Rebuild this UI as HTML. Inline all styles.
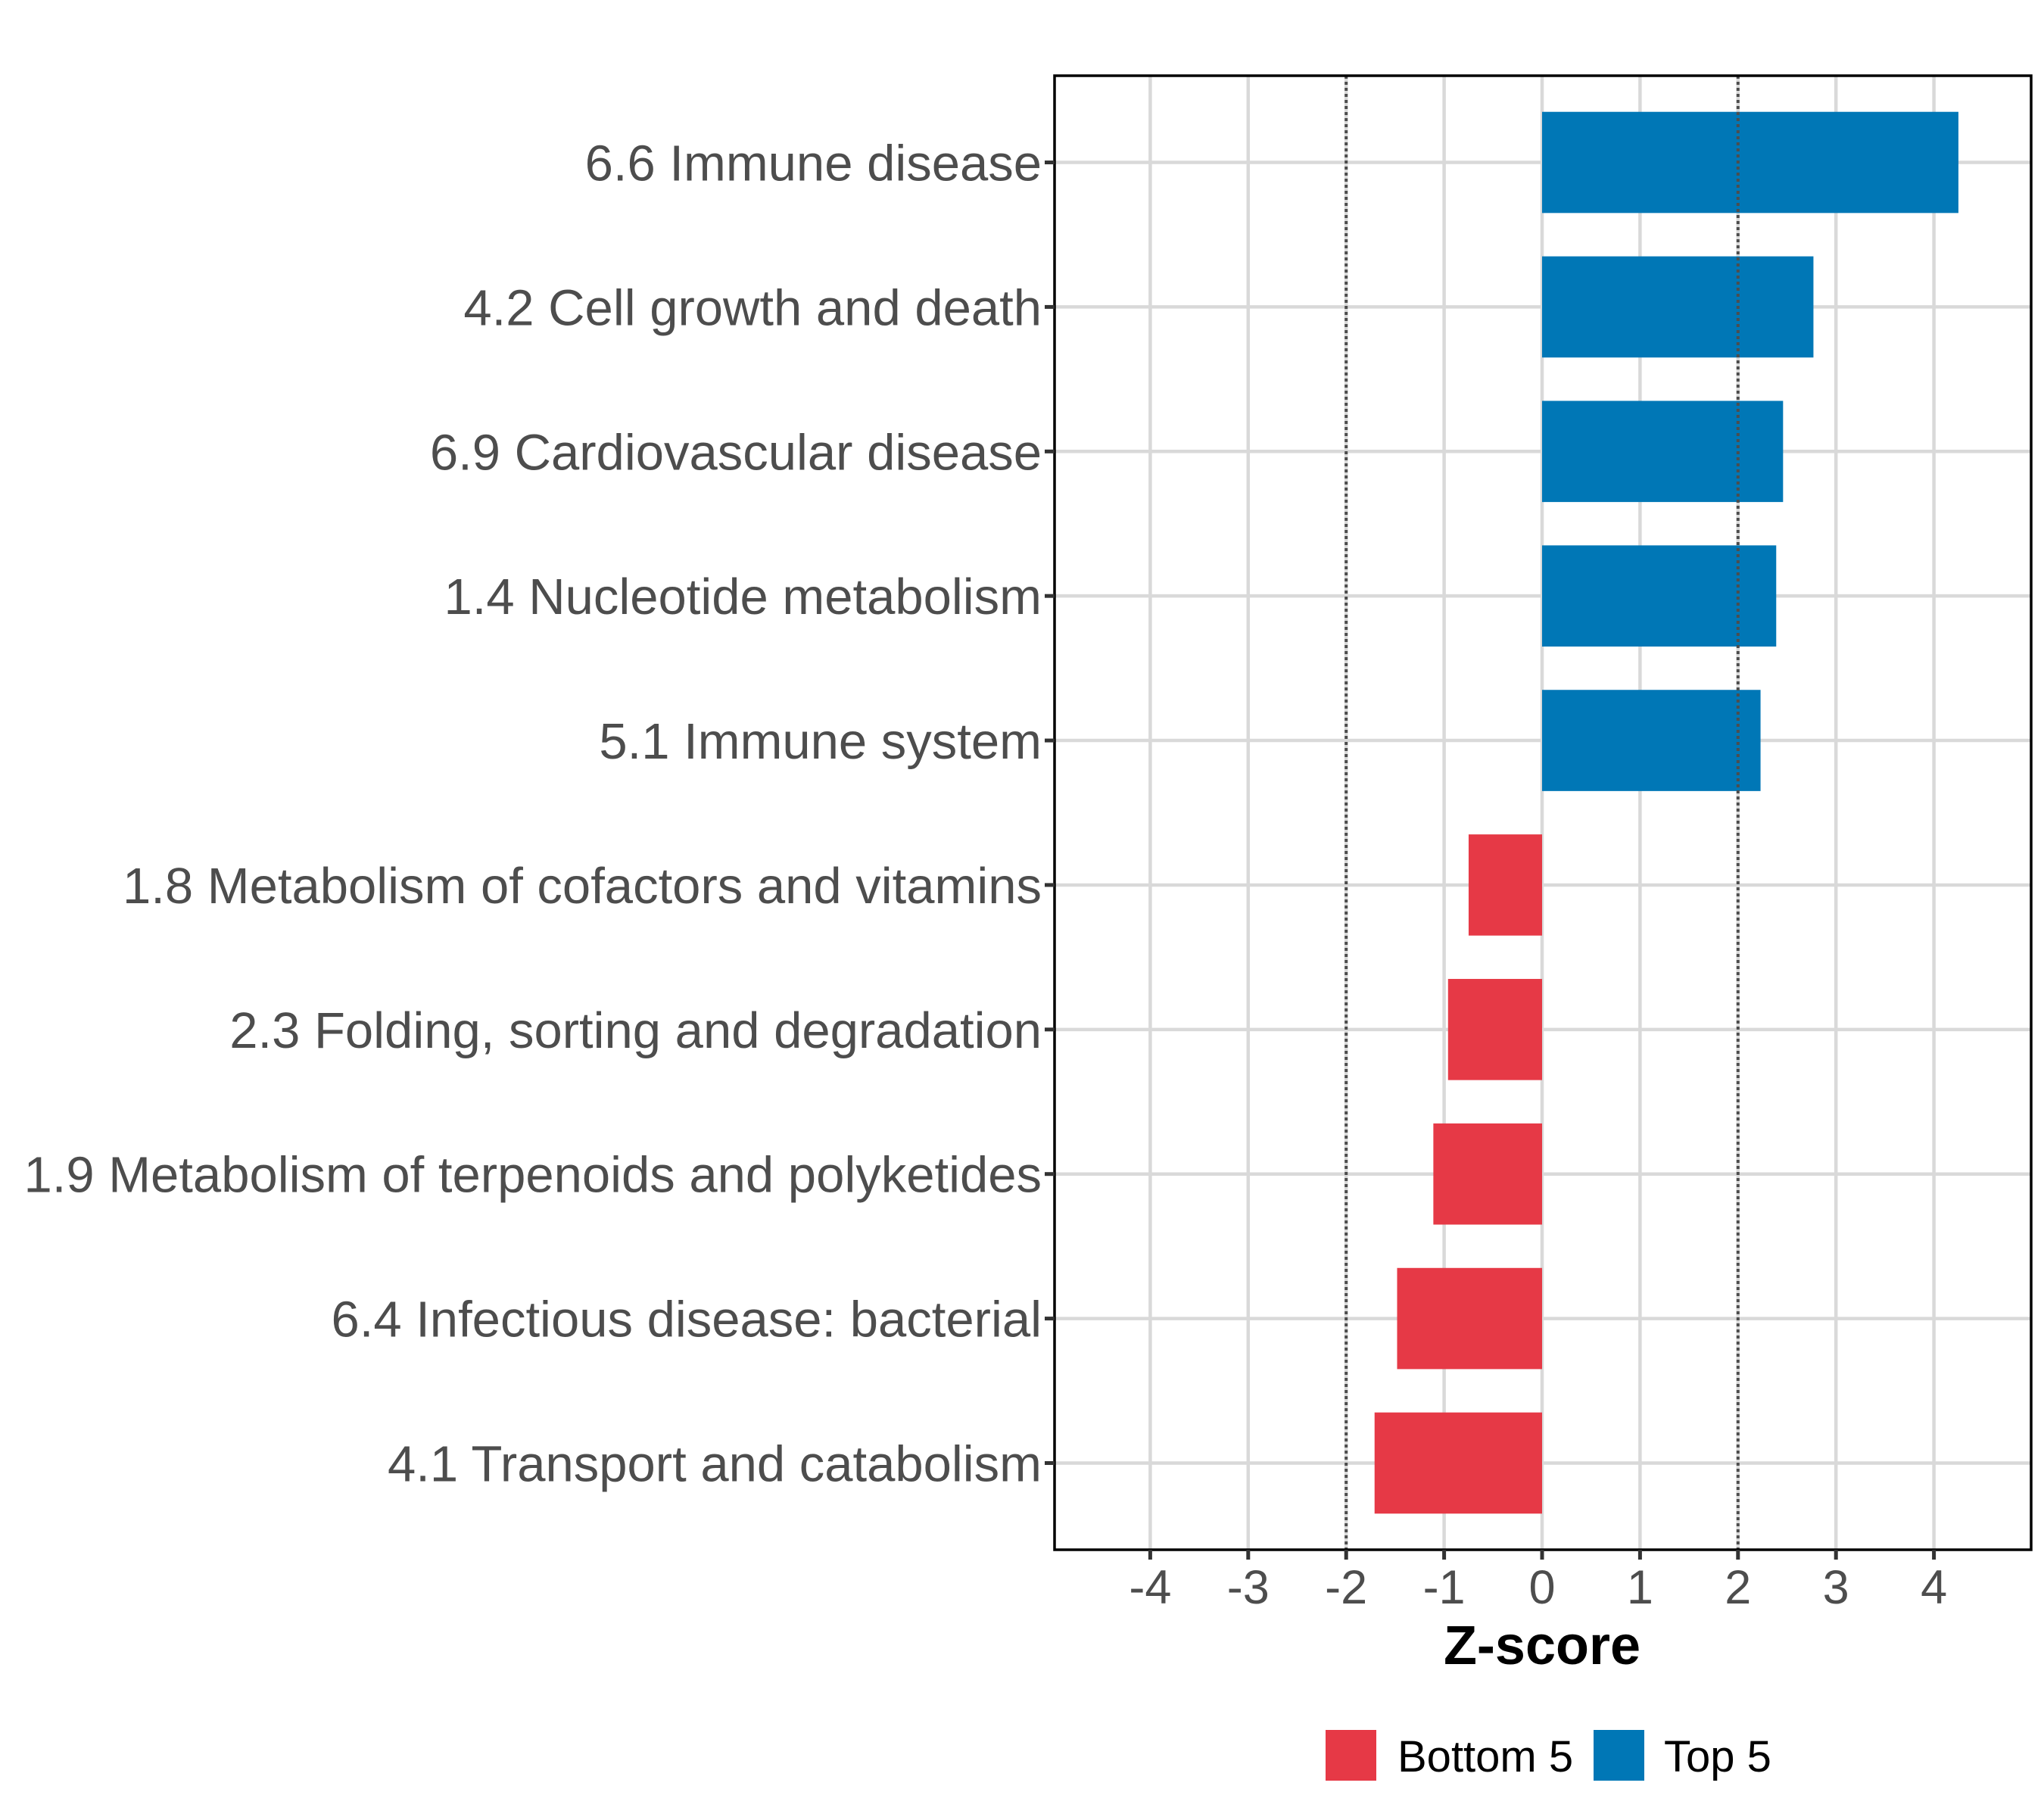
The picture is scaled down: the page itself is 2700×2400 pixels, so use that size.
<!DOCTYPE html>
<html><head><meta charset="utf-8"><style>
body{margin:0;background:#fff}
svg{display:block;font-family:"Liberation Sans",sans-serif}
</style></head><body>
<svg id="chart" width="2700" height="2400" viewBox="0 0 2700 2400" xmlns="http://www.w3.org/2000/svg"></svg>
<script>
const categories = ["6.6 Immune disease","4.2 Cell growth and death","6.9 Cardiovascular disease","1.4 Nucleotide metabolism","5.1 Immune system","1.8 Metabolism of cofactors and vitamins","2.3 Folding, sorting and degradation","1.9 Metabolism of terpenoids and polyketides","6.4 Infectious disease: bacterial","4.1 Transport and catabolism"];
const zscores = [4.25,2.77,2.46,2.39,2.23,-0.75,-0.96,-1.11,-1.48,-1.71];
const groups = ["Top 5","Top 5","Top 5","Top 5","Top 5","Bottom 5","Bottom 5","Bottom 5","Bottom 5","Bottom 5"];
const xTicks = [-4,-3,-2,-1,0,1,2,3,4];
const refLines = [-2,2];
const legendLabels = ["Bottom 5","Top 5"];
const colors = {"Bottom 5":"#E63946","Top 5":"#0077B6"};

const L=1393,R=2683,T=100,B=2047;
const x = v => 2037 + v*129.4;
const step = (B-T)/10.2;
const y = i => T + (0.6+i)*step;
const svg = document.getElementById('chart');
const NS = "http://www.w3.org/2000/svg";
function mk(tag, attrs, parent){const e=document.createElementNS(NS,tag);for(const k in attrs)e.setAttribute(k,attrs[k]);(parent||svg).appendChild(e);return e;}

xTicks.forEach(t=>{
  const g=mk('line',{x1:x(t),x2:x(t),y1:T,y2:B,stroke:'#d9d9d9','stroke-width':4.5});
  
  
});
categories.forEach((c,i)=>{
  const g=mk('line',{x1:L,x2:R,y1:y(i),y2:y(i),stroke:'#d9d9d9','stroke-width':4.5});
  
  
});
categories.forEach((c,i)=>{
  const v=zscores[i];
  const h=step*0.7;
  const b=mk('rect',{x:Math.min(x(0),x(v)),y:y(i)-h/2,width:Math.abs(x(v)-x(0)),height:h,fill:colors[groups[i]]});
  
  
});
refLines.forEach(r=>{
  const l=mk('line',{x1:x(r),x2:x(r),y1:T,y2:B,stroke:'#4d4d4d','stroke-width':4,'stroke-dasharray':'4 4'});
  
  
});
const pb=mk('rect',{x:L,y:T,width:R-L,height:B-T,fill:'none',stroke:'#000','stroke-width':3.5});


categories.forEach((c,i)=>{
  const tk=mk('line',{x1:1380,x2:L,y1:y(i),y2:y(i),stroke:'#333','stroke-width':5});
  
  
  const t=mk('text',{x:1376,y:y(i)+24,'text-anchor':'end','font-size':67,fill:'#4d4d4d'});
  t.textContent=c;
  
  
});
xTicks.forEach(t=>{
  const tk=mk('line',{x1:x(t),x2:x(t),y1:B,y2:B+13,stroke:'#333','stroke-width':5});
  
  
  const tl=mk('text',{x:x(t),y:2118,'text-anchor':'middle','font-size':63,fill:'#4d4d4d'});
  tl.textContent=String(t);
  
  
});
const xt=mk('text',{x:x(0),y:2198,'text-anchor':'middle','font-size':72,'font-weight':'bold',fill:'#000'});
xt.textContent='Z-score';


const keyX=[1751,2105], txtX=[1846,2198];
legendLabels.forEach((lab,i)=>{
  const k=mk('rect',{x:keyX[i],y:2285,width:67,height:67,fill:colors[lab]});
  
  
  const t=mk('text',{x:txtX[i],y:2340,'font-size':58,fill:'#000'});
  t.textContent=lab;
  
  
});
</script>
</body></html>
